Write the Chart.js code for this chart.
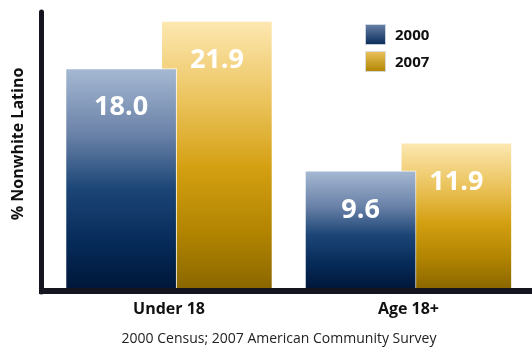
<!DOCTYPE html>
<html>
<head>
<meta charset="utf-8">
<script src="https://cdn.jsdelivr.net/npm/chart.js@4"></script>
<style>
  html, body { margin: 0; padding: 0; background: #fff; }
  canvas { display: block; }
</style>
</head>
<body>
<canvas id="myChart" width="532" height="352"></canvas>
<script>
const categories = ['Under 18', 'Age 18+'];
const years = ['2000', '2007'];
const values2000 = [18.0, 9.6];
const values2007 = [21.9, 11.9];
const yTitle = '% Nonwhite Latino';
const caption = '2000 Census; 2007 American Community Survey';

const yMax = 22.8;
const pairOffset = 0.2; // each year's bar sits this far either side of its category

const blueStops = [[0, '#a6b9d3'], [0.3, '#6a82a8'], [0.55, '#1b4576'], [0.8, '#062a58'], [1, '#00173a']];
const goldStops = [[0, '#fde8b2'], [0.3, '#ebc35c'], [0.55, '#d4a012'], [0.8, '#b08300'], [1, '#8b6700']];
const axisColor = '#15151f';

Chart.defaults.font.family = '"Open Sans", sans-serif';
Chart.defaults.color = '#111';

function barFill(stops) {
  return (c) => {
    const chart = c.chart;
    if (!chart.chartArea || c.type !== 'data') return stops[2][1];
    const y = chart.scales.y;
    const top = y.getPixelForValue(c.raw.y);
    const bottom = y.getPixelForValue(0);
    const g = chart.ctx.createLinearGradient(0, top, 0, bottom);
    stops.forEach(([o, col]) => g.addColorStop(o, col));
    return g;
  };
}

// axes, value labels, y title, legend and source line
const decorations = {
  id: 'decorations',
  afterDatasetsDraw(chart) {
    const ctx = chart.ctx;
    const area = chart.chartArea;
    const base = chart.scales.y.getPixelForValue(0);
    ctx.save();

    // value labels inside the bars
    ctx.fillStyle = '#fff';
    ctx.font = 'bold 27px "Open Sans", sans-serif';
    ctx.textAlign = 'center';
    ctx.textBaseline = 'middle';
    chart.data.datasets.forEach((ds, di) => {
      chart.getDatasetMeta(di).data.forEach((bar, i) => {
        ctx.fillText(ds.data[i].y.toFixed(1), bar.x, bar.y + 39);
      });
    });

    // axis lines
    ctx.strokeStyle = axisColor;
    ctx.fillStyle = axisColor;
    ctx.lineWidth = 5;
    ctx.lineCap = 'round';
    ctx.beginPath();
    ctx.moveTo(area.left - 2.5, area.top + 2);
    ctx.lineTo(area.left - 2.5, base + 4);
    ctx.stroke();
    ctx.fillRect(area.left - 5, base, chart.width - area.left + 5, 6);

    // y axis title
    ctx.save();
    ctx.translate(18, 144);
    ctx.rotate(-Math.PI / 2);
    ctx.fillStyle = '#111';
    ctx.font = 'bold 16px "Open Sans", sans-serif';
    ctx.fillText(yTitle, 0, 0);
    ctx.restore();

    // legend
    const legendStops = [blueStops, goldStops];
    years.forEach((yr, i) => {
      const bx = 365, by = 24 + i * 27, s = 21;
      const g = ctx.createLinearGradient(0, by, 0, by + s);
      g.addColorStop(0, legendStops[i][1][1]);
      g.addColorStop(1, legendStops[i][3][1]);
      ctx.fillStyle = g;
      ctx.fillRect(bx, by, s, s);
      ctx.strokeStyle = 'rgba(220,225,235,0.9)';
      ctx.lineWidth = 1;
      ctx.strokeRect(bx + 0.5, by + 0.5, s - 1, s - 1);
      ctx.fillStyle = '#111';
      ctx.font = 'bold 15px "Open Sans", sans-serif';
      ctx.textAlign = 'left';
      ctx.fillText(yr, bx + 30, by + s / 2 + 1);
    });

    // source line
    ctx.fillStyle = '#222';
    ctx.font = '14px "Open Sans", sans-serif';
    ctx.textAlign = 'center';
    ctx.fillText(caption, 279, 339);

    ctx.restore();
  }
};

const chartConfig = {
  type: 'bar',
  data: {
    datasets: [
      {
        label: years[0],
        data: values2000.map((v, i) => ({ x: i - pairOffset, y: v })),
        backgroundColor: barFill(blueStops),
      },
      {
        label: years[1],
        data: values2007.map((v, i) => ({ x: i + pairOffset, y: v })),
        backgroundColor: barFill(goldStops),
      },
    ],
  },
  options: {
    responsive: false,
    animation: false,
    devicePixelRatio: 1,
    layout: { padding: { left: 44, top: 10, right: 0, bottom: 20.8 } },
    datasets: {
      bar: {
        grouped: false,
        barThickness: 111,
        borderWidth: 1,
        borderColor: 'rgba(255,255,255,0.85)',
        borderSkipped: 'bottom',
      },
    },
    plugins: {
      legend: { display: false },
      tooltip: { enabled: false },
    },
    scales: {
      x: {
        type: 'linear',
        offset: false,
        min: -0.522,
        max: 1.516,
        grid: { display: false, drawTicks: false, offset: false },
        border: { display: false },
        afterBuildTicks: (scale) => {
          scale.ticks = categories.map((c, i) => ({ value: i }));
        },
        ticks: {
          autoSkip: false,
          maxRotation: 0,
          padding: 12,
          font: { size: 16, weight: 'bold' },
          color: '#111',
          callback: (value) => categories[value],
        },
      },
      y: {
        display: false,
        min: 0,
        max: yMax,
      },
    },
  },
  plugins: [decorations],
};

new Chart(document.getElementById('myChart'), chartConfig);
</script>
</body>
</html>
